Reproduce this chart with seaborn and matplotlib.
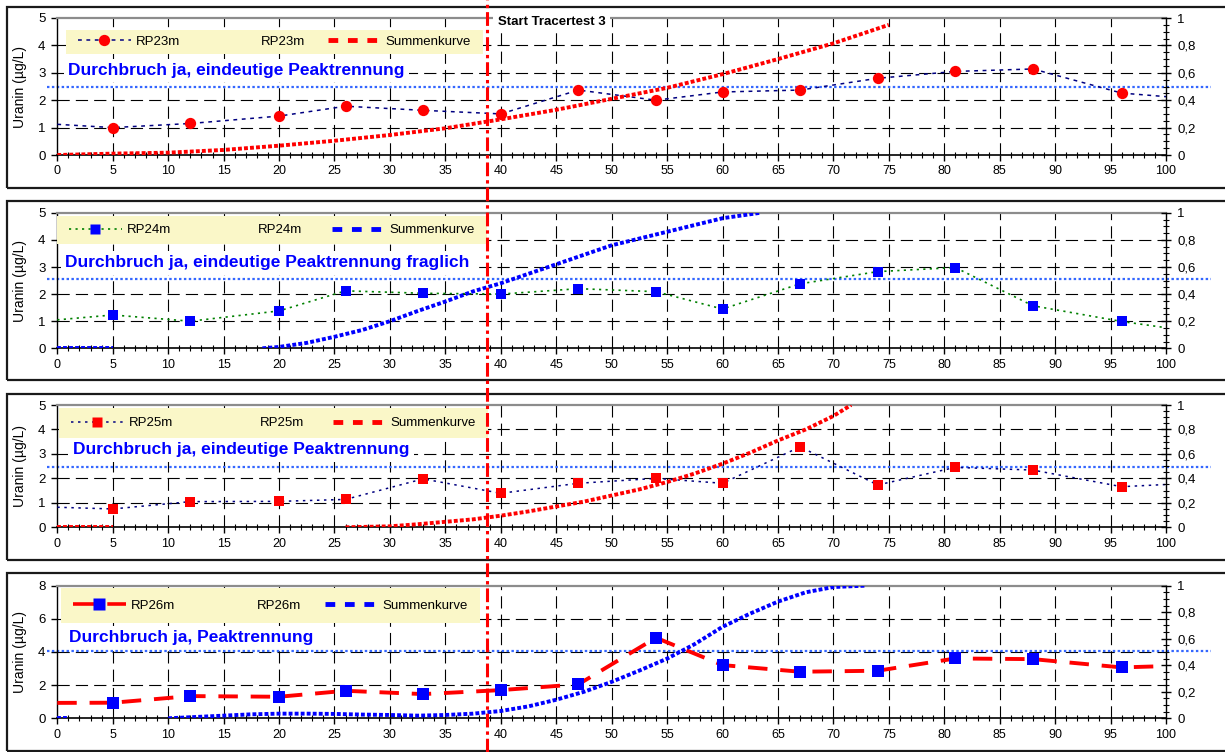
import matplotlib
matplotlib.use("Agg")
import matplotlib.pyplot as plt
import matplotlib.transforms as mtransforms
from matplotlib.lines import Line2D
from matplotlib.patches import Rectangle
from matplotlib.ticker import MultipleLocator, FixedLocator, FixedFormatter
import seaborn as sns

# ---------------------------------------------------------------- data
# sampling days; the first and last value only continue the curve
days = [0, 5, 12, 20, 26, 33, 40, 47, 54, 60, 67, 74, 81, 88, 96, 100]

rp23 = [1.12, 1.0, 1.15, 1.42, 1.78, 1.63, 1.5, 2.37, 2.0, 2.3, 2.37, 2.8, 3.05, 3.14, 2.26, 2.13]
rp24 = [1.05, 1.23, 1.0, 1.38, 2.12, 2.03, 2.0, 2.2, 2.09, 1.45, 2.38, 2.83, 2.98, 1.57, 0.99, 0.76]
rp25 = [0.82, 0.75, 1.05, 1.06, 1.14, 1.98, 1.39, 1.8, 2.0, 1.8, 3.29, 1.73, 2.45, 2.34, 1.66, 1.75]
rp26 = [0.93, 0.94, 1.34, 1.3, 1.66, 1.46, 1.7, 2.05, 4.86, 3.21, 2.81, 2.87, 3.61, 3.57, 3.07, 3.15]

# cumulative recovery curves (right axis, 0..1); None marks a gap in the curve
sum23_x = [0, 5, 10, 15, 20, 25, 30, 35, 40, 45, 50, 55, 60, 65, 70, 75]
sum23 = [0, 0.01, 0.017, 0.037, 0.068, 0.104, 0.146, 0.195, 0.26, 0.33, 0.41, 0.49, 0.59, 0.70,
         0.815, 0.95]

sum24_x = [0, 5, None, 18.5, 20, 22.5, 25, 27.5, 30, 32.5, 35, 37.5, 40, 42.5, 45, 47.5, 50,
           52.5, 55, 57.5, 60, 63.4]
sum24 = [0, 0, None, 0, 0.01, 0.04, 0.085, 0.135, 0.2, 0.275, 0.345, 0.42, 0.48, 0.55, 0.62,
         0.69, 0.76, 0.81, 0.86, 0.91, 0.96, 1.0]

sum25_x = [0, 5, None, 26, 27.5, 30, 32.5, 35, 37.5, 40, 42.5, 45, 47.5, 50, 52.5, 55,
           57.5, 60, 62.5, 65, 67.5, 70, 71.6]
sum25 = [0, 0, None, 0, 0.003, 0.008, 0.025, 0.045, 0.065, 0.095, 0.13, 0.17, 0.21, 0.26,
         0.31, 0.37, 0.44, 0.52, 0.61, 0.71, 0.80, 0.91, 1.0]

sum26_x = [0, 1, None, 10, 12.5, 15, 17.5, 20, 22.5, 25, 27.5, 30, 32.5, 35, 37.5, 40, 42.5, 45,
           47.5, 50, 52.5, 55, 57.5, 60, 62.5, 65, 67.5, 70, 72.8]
sum26 = [0, 0, None, 0, 0.01, 0.02, 0.03, 0.035, 0.035, 0.033, 0.028, 0.025, 0.02, 0.025, 0.035,
         0.055, 0.09, 0.14, 0.2, 0.275, 0.36, 0.45, 0.56, 0.69, 0.79, 0.88, 0.95, 0.99, 1.0]

names = ["RP23m", "RP24m", "RP25m", "RP26m"]
titles = ["Durchbruch ja, eindeutige Peaktrennung",
          "Durchbruch ja, eindeutige Peaktrennung fraglich",
          "Durchbruch ja, eindeutige Peaktrennung",
          "Durchbruch ja, Peaktrennung"]
thresholds = [2.5, 2.55, 2.45, 4.05]
tracer_start = 38.8
start_label = "Start Tracertest 3"
sum_label = "Summenkurve"
y_label = "Uranin (µg/L)"

x_ticks = list(range(0, 101, 5))
left_ticks = [[0, 1, 2, 3, 4, 5]] * 3 + [[0, 2, 4, 6, 8]]
right_ticks = [0, 0.2, 0.4, 0.6, 0.8, 1.0]
right_tick_labels = ["0", "0,2", "0,4", "0,6", "0,8", "1"]

# ---------------------------------------------------------------- styles
RED, BLUE, NAVY, GREEN = "#FF0000", "#0000FF", "#000080", "#008000"
panels = [
    dict(y=rp23, sx=sum23_x, sy=sum23, lc=NAVY, lw=1.1, ls=(0, (2.5, 3)),
         mk="o", mc=RED, ms=66, scol=RED),
    dict(y=rp24, sx=sum24_x, sy=sum24, lc=GREEN, lw=1.2, ls=(0, (1.3, 2.6)),
         mk="s", mc=BLUE, ms=56, scol=BLUE),
    dict(y=rp25, sx=sum25_x, sy=sum25, lc=NAVY, lw=1.1, ls=(0, (1.6, 3)),
         mk="s", mc=RED, ms=48, scol=RED),
    dict(y=rp26, sx=sum26_x, sy=sum26, lc=RED, lw=2.8, ls=(0, (5, 3.3)),
         mk="s", mc=BLUE, ms=70, scol=BLUE),
]


def split_runs(xs, ys):
    """Split a curve into continuous pieces at None entries."""
    runs, cx, cy = [], [], []
    for xv, yv in zip(xs, ys):
        if xv is None or yv is None:
            if cx:
                runs.append((cx, cy))
            cx, cy = [], []
        else:
            cx.append(xv)
            cy.append(yv)
    if cx:
        runs.append((cx, cy))
    return runs


sns.set_theme(style="ticks", rc={
    "text.color": "black", "axes.labelcolor": "black",
    "xtick.color": "black", "ytick.color": "black",
    "axes.edgecolor": "black",
})
plt.rcParams["font.family"] = ["Liberation Sans", "DejaVu Sans"]

W, H = 1225, 752
fig = plt.figure(figsize=(W / 100, H / 100), dpi=100)
fig.patch.set_facecolor("white")

AX_LEFT, AX_RIGHT = 57.3, 1166.0
axes_px = [(18.0, 155.0), (212.8, 348.3), (405.0, 527.3), (585.7, 718.3)]
frame_px = [(7, 188), (201, 379.5), (394, 559.5), (573, 750.5)]
legend_px = [(66, 483, 30, 54), (57, 487, 216, 244), (59, 488, 408, 438), (61, 480, 588, 623)]
title_pos = [(0.97, 2.92), (0.7, 2.99), (1.4, 2.99), (1.1, 4.6)]

GRID_LS = (0, (11, 5.5))
axes_list = []

for i, p in enumerate(panels):
    top, zero = axes_px[i]
    ax = fig.add_axes([AX_LEFT / W, 1 - zero / H, (AX_RIGHT - AX_LEFT) / W, (zero - top) / H])
    ax.set_facecolor("none")
    ymax = left_ticks[i][-1]
    ax.set_xlim(0, 100)
    ax.set_ylim(0, ymax)

    # dashed grid inside the plot area
    for yv in left_ticks[i][1:-1]:
        ax.axhline(yv, color="black", lw=0.8, ls=GRID_LS, zorder=1)
    for xv in x_ticks[1:-1]:
        ax.axvline(xv, color="black", lw=0.8, ls=GRID_LS, zorder=1)

    # threshold line reaching a bit past the plot area
    ax.axhline(thresholds[i], xmin=-0.0093, xmax=1.041, clip_on=False,
               color="#3366FF", lw=1.6, ls=(0, (1.1, 1.1)), zorder=2.5)

    # measured concentrations
    sns.lineplot(x=days, y=p["y"], ax=ax, color=p["lc"], lw=p["lw"], linestyle=p["ls"],
                 sort=False, estimator=None, zorder=3)
    sns.scatterplot(x=days[1:-1], y=p["y"][1:-1], ax=ax, marker=p["mk"], s=p["ms"],
                    color=p["mc"], linewidth=0, zorder=4)

    # axes cosmetics
    ax.set_xticks(x_ticks)
    ax.xaxis.set_minor_locator(MultipleLocator(1))
    ax.set_yticks(left_ticks[i])
    ax.set_xlabel("")
    ax.set_ylabel(y_label, fontsize=10)
    ax.yaxis.set_label_coords(-0.0275, 0.5)
    ax.tick_params(axis="x", which="major", direction="out", length=4, width=1,
                   pad=3.5, labelsize=9, bottom=True)
    ax.tick_params(axis="x", which="minor", direction="inout", length=4, width=0.8,
                   bottom=True)
    ax.tick_params(axis="y", which="major", direction="out", length=4, width=1,
                   pad=4.5, labelsize=9.5, left=True)
    ax.spines["left"].set_linewidth(1.0)
    ax.spines["bottom"].set_linewidth(1.2)
    ax.spines["top"].set_visible(True)
    ax.spines["top"].set_color("#8c8c8c")
    ax.spines["top"].set_linewidth(1.6)
    ax.spines["right"].set_visible(False)

    # legend on a pale yellow panel
    lx0, lx1, ly0, ly1 = legend_px[i]
    bx = (lx0 - AX_LEFT) / (AX_RIGHT - AX_LEFT)
    bw = (lx1 - lx0) / (AX_RIGHT - AX_LEFT)
    by = (zero - ly1) / (zero - top)
    bh = (ly1 - ly0) / (zero - top)
    ax.add_patch(Rectangle((bx, by), bw, bh, transform=ax.transAxes,
                           facecolor="#FAF7C8", edgecolor="none", zorder=5))
    h_series = Line2D([], [], color=p["lc"], lw=p["lw"] if i < 3 else 2.6,
                      ls=p["ls"] if i < 3 else (0, (6.5, 3)),
                      marker=p["mk"], markersize=p["ms"] ** 0.5,
                      markerfacecolor=p["mc"], markeredgecolor="none")
    h_blank = Line2D([], [], color="none")
    h_sum = Line2D([], [], color=p["scol"], lw=3.5, ls=(0, (2, 2)))
    ax.legend([h_series, h_blank, h_sum], [names[i], names[i], sum_label],
              ncol=3, mode="expand", loc="center", bbox_to_anchor=(bx, by, bw, bh),
              bbox_transform=ax.transAxes, frameon=False, fontsize=9.5,
              handlelength=4.0, handletextpad=0.4, borderpad=0.9, borderaxespad=0
              ).set_zorder(6)

    # classification note
    tx, ty = title_pos[i]
    ax.text(tx, ty, titles[i], color=BLUE, fontsize=12.5, fontweight="bold",
            ha="left", va="baseline", zorder=6,
            bbox=dict(facecolor="white", edgecolor="none", boxstyle="square,pad=0.25"))

    # cumulative curve on the right axis
    tw = ax.twinx()
    tw.set_ylim(0, 1)
    for rx, ry in split_runs(p["sx"], p["sy"]):
        sns.lineplot(x=rx, y=ry, ax=tw, color=p["scol"], lw=2.8,
                     linestyle=(0, (1, 0.55)), sort=False, estimator=None, zorder=3)
    tw.set_ylabel("")
    tw.yaxis.set_major_locator(FixedLocator(right_ticks))
    tw.yaxis.set_major_formatter(FixedFormatter(right_tick_labels))
    tw.yaxis.set_minor_locator(MultipleLocator(0.05))
    tw.tick_params(axis="y", which="major", direction="inout", length=7, width=1,
                   pad=4.5, labelsize=9.5, right=True)
    tw.tick_params(axis="y", which="minor", direction="inout", length=4, width=0.8,
                   right=True)
    for side in ("top", "left", "bottom"):
        tw.spines[side].set_visible(False)
    tw.spines["right"].set_visible(True)
    tw.spines["right"].set_linewidth(1.0)

    # chart frame around the panel
    ftop, fbot = frame_px[i]
    fig.add_artist(Rectangle((7 / W, 1 - fbot / H), 1.1, (fbot - ftop) / H,
                             transform=fig.transFigure, fill=False,
                             edgecolor="#1a1a1a", lw=1.6, clip_on=False))
    axes_list.append(ax)

# start of tracer test 3, marked across all panels
ax1 = axes_list[0]
ax1.text(tracer_start + 0.95, 4.85, start_label, fontsize=9.5, fontweight="bold",
         ha="left", va="center", zorder=7, clip_on=False,
         bbox=dict(facecolor="white", edgecolor="none", boxstyle="square,pad=0.35"))
blend = mtransforms.blended_transform_factory(ax1.transData, fig.transFigure)
fig.add_artist(Line2D([tracer_start, tracer_start], [0, 1], transform=blend,
                      color=RED, lw=2.2, ls=(0, (4.5, 1.3, 1.1, 1.3)), zorder=10))

fig.savefig("out.png", dpi=100, facecolor="white")
